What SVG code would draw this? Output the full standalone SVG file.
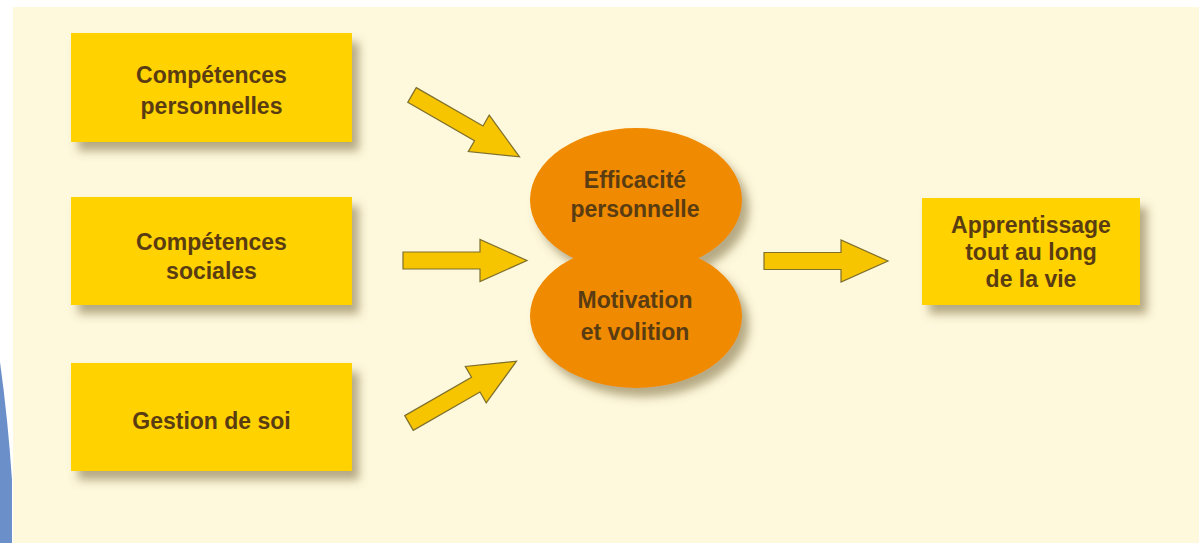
<svg xmlns="http://www.w3.org/2000/svg" width="1199" height="543" viewBox="0 0 1199 543">
<defs>
<filter id="sh" x="-20%" y="-20%" width="150%" height="160%">
<feDropShadow dx="7" dy="9" stdDeviation="5" flood-color="#7a6a3a" flood-opacity="0.55"/>
</filter>
<path id="arr" d="M0,-8.5 L77,-8.5 L77,-21 L124,0 L77,21 L77,8.5 L0,8.5 Z"/>
</defs>
<style>
.box{fill:#ffd200}
.ell{fill:#f08a00}
.t{font-family:"Liberation Sans",Arial,sans-serif;font-weight:bold;font-size:23px;fill:#5a3c12;text-anchor:middle}
.a{fill:#f7c400;stroke:#7d6f2c;stroke-width:1.2;stroke-linejoin:miter}
</style>
<rect x="0" y="0" width="1199" height="543" fill="#ffffff"/>
<rect x="13" y="7" width="1186" height="536" fill="#fef8dc"/>
<path d="M0,362 Q8,420 12,480 L12,543 L0,543 Z" fill="#6b8fc9"/>

<g id="n1">
<rect class="box" x="71" y="33" width="281" height="109" filter="url(#sh)"/>
<text class="t" x="211.5" y="83">Compétences</text>
<text class="t" x="211.5" y="114">personnelles</text>
</g>
<g id="n2">
<rect class="box" x="71" y="197" width="281" height="108" filter="url(#sh)"/>
<text class="t" x="211.5" y="250">Compétences</text>
<text class="t" x="211.5" y="279">sociales</text>
</g>
<g id="n3">
<rect class="box" x="71" y="363" width="281" height="108" filter="url(#sh)"/>
<text class="t" x="211.5" y="429">Gestion de soi</text>
</g>
<g id="n4">
<g filter="url(#sh)">
<ellipse class="ell" cx="636" cy="200" rx="106" ry="72"/>
<ellipse class="ell" cx="636" cy="316" rx="106" ry="72"/>
</g>
<text class="t" x="635" y="188">Efficacité</text>
<text class="t" x="635" y="217">personnelle</text>
<text class="t" x="635" y="308">Motivation</text>
<text class="t" x="635" y="340">et volition</text>
</g>
<g id="n5">
<rect class="box" x="922" y="198" width="218" height="107" filter="url(#sh)"/>
<text class="t" x="1031" y="233">Apprentissage</text>
<text class="t" x="1031" y="260">tout au long</text>
<text class="t" x="1031" y="287">de la vie</text>
</g>

<g id="connectors">
<use href="#arr" class="a" transform="translate(412,95) rotate(29.9)"/>
<use href="#arr" class="a" transform="translate(403,260.5)"/>
<use href="#arr" class="a" transform="translate(409,423) rotate(-29.9)"/>
<use href="#arr" class="a" transform="translate(764,261)"/>
</g>
</svg>
